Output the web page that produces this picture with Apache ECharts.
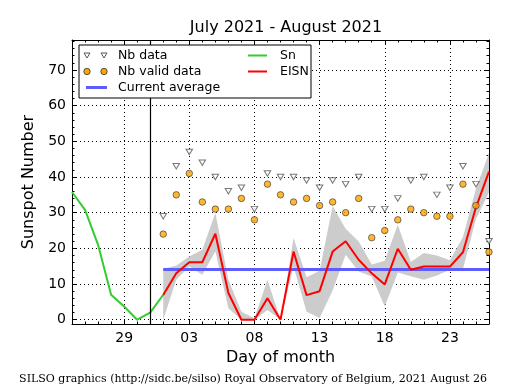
<!DOCTYPE html>
<html>
<head>
<meta charset="utf-8">
<script src="https://cdn.jsdelivr.net/npm/echarts@6/dist/echarts.min.js"></script>
<style>html,body{margin:0;padding:0;background:#fff}#c{width:515px;height:390px}</style>
</head>
<body>
<div id="c"></div>
<script>
// ---- Data ----
const days = ['25','26','27','28','29','30','31','01','02','03','04','05','06','07','08','09','10','11','12','13','14','15','16','17','18','19','20','21','22','23','24','25','26'];
const tickLabels = ['29','03','08','13','18','23'];
// Sn: July 25 .. August 1
const snValues = [35.8, 30.8, 21.0, 7.0, 3.7, 0, 2.0, 7.0];
// August 1 .. August 26
const eisnValues = [6.9, 13.0, 16.1, 16.1, 24.1, 7.5, 0, 0, 6.0, 0, 19.1, 6.9, 8.0, 19.1, 22.0, 16.8, 13.0, 9.9, 19.9, 14.0, 14.9, 14.9, 14.9, 18.9, 31.5, 41.5];
const bandUpper = [14.2, 15.2, 17.7, 19.6, 29.9, 11.2, 2.2, 0.4, 11.2, 0, 22.9, 11.9, 13.7, 31.8, 25.5, 21.9, 15.5, 16.5, 26.6, 16.2, 18.7, 18.0, 16.7, 23.2, 36.7, 46.7];
const bandLower = [0, 11.2, 14.9, 12.6, 19.2, 3.2, 0, 0, 2.7, 0, 14.9, 2.2, 0.5, 8.2, 18.2, 13.5, 12.1, 3.7, 13.2, 12.2, 11.2, 12.4, 14.0, 14.2, 28.2, 35.7];
const nbData = [29, 43, 47, 44, 40, 36, 37, 31, 41, 40, 40, 39, 37, 39, 38, 40, 31, 31, 34, 39, 40, 35, 37, 43, 38, 22];
const nbValid = [24, 35, 41, 33, 31, 31, 34, 28, 38, 35, 33, 34, 32, 33, 30, 34, 23, 25, 28, 31, 30, 29, 29, 38, 32, 19];
const currentAverage = 14.1;
const monthStartIndex = 6; // vertical marker (31 July)

// ---- helpers ----
const augStart = days.length - eisnValues.length; // index of 01 Aug
function padAug(arr) { return days.map((d, i) => i >= augStart ? arr[i - augStart] : null); }
function padJul(arr) { return days.map((d, i) => i < arr.length ? arr[i] : null); }
const bandDiff = bandUpper.map((u, i) => +(u - bandLower[i]).toFixed(2));
const avgLine = eisnValues.map(() => currentAverage);
const isMajor = (i) => tickLabels.indexOf(days[i]) >= 0 && (i + 1) % 5 === 0;

const FONT = 'DejaVu Sans';
const triPath = 'path://M0,0 L10,0 L5,9 Z';

const xCommon = { type: 'category', data: days, boundaryGap: false, gridIndex: 0 };
const yCommon = { type: 'value', min: -1.2, max: 78.4, gridIndex: 0 };

const option = {
  animation: false,
  backgroundColor: '#fff',
  title: {
    text: 'July 2021 - August 2021', left: 281, top: 15, textAlign: 'center',
    textStyle: { fontFamily: FONT, fontSize: 16, fontWeight: 'normal', color: '#000' }
  },
  grid: { left: 72, right: 26, top: 40, bottom: 66, containLabel: false },
  xAxis: [
    Object.assign({}, xCommon, {
      position: 'bottom',
      name: 'Day of month', nameLocation: 'middle', nameGap: 25,
      nameTextStyle: { fontFamily: FONT, fontSize: 16, color: '#000' },
      axisLine: { show: true, onZero: false, lineStyle: { color: '#000', width: 1 } },
      axisTick: { show: true, inside: true, length: 5, interval: (i) => isMajor(i), lineStyle: { color: '#000' } },
      axisLabel: { show: true, interval: (i) => isMajor(i), margin: 7, fontFamily: FONT, fontSize: 14, color: '#000' },
      splitLine: { show: true, interval: (i) => isMajor(i), lineStyle: { color: '#000', type: [1, 3], width: 1 } }
    }),
    Object.assign({}, xCommon, {
      position: 'top',
      axisLine: { show: true, onZero: false, lineStyle: { color: '#000', width: 1 } },
      axisTick: { show: true, inside: true, length: 5, interval: (i) => isMajor(i), lineStyle: { color: '#000' } },
      axisLabel: { show: false }, splitLine: { show: false }
    }),
    Object.assign({}, xCommon, {
      position: 'bottom',
      axisLine: { show: false, onZero: false },
      axisTick: { show: true, inside: true, length: 2.5, interval: 0, lineStyle: { color: '#000' } },
      axisLabel: { show: false }, splitLine: { show: false }
    }),
    Object.assign({}, xCommon, {
      position: 'top',
      axisLine: { show: false, onZero: false },
      axisTick: { show: true, inside: true, length: 2.5, interval: 0, lineStyle: { color: '#000' } },
      axisLabel: { show: false }, splitLine: { show: false }
    })
  ],
  yAxis: [
    Object.assign({}, yCommon, {
      position: 'left', splitNumber: 8,
      name: 'Sunspot Number', nameLocation: 'middle', nameGap: 28, nameRotate: 90,
      nameTextStyle: { fontFamily: FONT, fontSize: 16, color: '#000' },
      axisLine: { show: true, onZero: false, lineStyle: { color: '#000', width: 1 } },
      axisTick: { show: true, inside: true, length: 5, lineStyle: { color: '#000' } },
      axisLabel: { show: true, margin: 6, fontFamily: FONT, fontSize: 14, color: '#000',
        formatter: (v) => (Math.abs(v % 10) < 1e-6 ? String(v) : '') },
      splitLine: { show: true, lineStyle: { color: '#000', type: [1, 3], width: 1 } }
    }),
    Object.assign({}, yCommon, {
      position: 'right', splitNumber: 8,
      axisLine: { show: true, onZero: false, lineStyle: { color: '#000', width: 1 } },
      axisTick: { show: true, inside: true, length: 5, lineStyle: { color: '#000' } },
      axisLabel: { show: false }, splitLine: { show: false }
    }),
    Object.assign({}, yCommon, {
      position: 'left', splitNumber: 40,
      axisLine: { show: false, onZero: false },
      axisTick: { show: true, inside: true, length: 2.5, lineStyle: { color: '#000' } },
      axisLabel: { show: false }, splitLine: { show: false }
    }),
    Object.assign({}, yCommon, {
      position: 'right', splitNumber: 40,
      axisLine: { show: false, onZero: false },
      axisTick: { show: true, inside: true, length: 2.5, lineStyle: { color: '#000' } },
      axisLabel: { show: false }, splitLine: { show: false }
    })
  ],
  series: [
    { name: 'bandLow', type: 'line', stack: 'band', data: padAug(bandLower), symbol: 'none',
      lineStyle: { opacity: 0 }, silent: true, z: 1 },
    { name: 'band', type: 'line', stack: 'band', data: padAug(bandDiff), symbol: 'none',
      lineStyle: { opacity: 0 }, areaStyle: { color: '#cccccc', opacity: 1 }, silent: true, z: 1 },
    { name: 'Current average', type: 'line', data: padAug(avgLine), symbol: 'none',
      lineStyle: { color: '#5c5cff', width: 3 }, silent: true, z: 2 },
    { name: 'Sn', type: 'line', data: padJul(snValues), symbol: 'none',
      lineStyle: { color: '#33cc33', width: 2 }, silent: true, z: 3,
      markLine: { silent: true, symbol: 'none', label: { show: false },
        lineStyle: { color: '#000', type: 'solid', width: 1.2 },
        data: [{ xAxis: monthStartIndex }] } },
    { name: 'EISN', type: 'line', data: padAug(eisnValues), symbol: 'none',
      lineStyle: { color: '#ff0000', width: 2 }, silent: true, z: 4 },
    { name: 'Nb data', type: 'scatter', data: padAug(nbData), symbol: triPath, symbolSize: [6.5, 5.5],
      itemStyle: { color: '#ffffff', borderColor: '#555555', borderWidth: 1 }, silent: true, z: 5 },
    { name: 'Nb valid data', type: 'scatter', data: padAug(nbValid), symbol: 'circle', symbolSize: 6.5,
      itemStyle: { color: '#ffa500', borderColor: '#333333', borderWidth: 0.8 }, silent: true, z: 6 }
  ],
  graphic: [
    { type: 'rect', z: 100, shape: { x: 79, y: 45, width: 232, height: 53 }, style: { fill: '#fff', stroke: '#000', lineWidth: 1 } },
    { type: 'polygon', z: 101, shape: { points: [[84, 53], [90, 53], [87, 58]] }, style: { fill: '#fff', stroke: '#555', lineWidth: 1 } },
    { type: 'polygon', z: 101, shape: { points: [[101, 53], [107, 53], [104, 58]] }, style: { fill: '#fff', stroke: '#555', lineWidth: 1 } },
    { type: 'text', z: 101, style: { text: 'Nb data', x: 118, y: 56, verticalAlign: 'middle', font: '12.5px "DejaVu Sans"', fill: '#000' } },
    { type: 'circle', z: 101, shape: { cx: 87, cy: 71.5, r: 3.2 }, style: { fill: '#ffa500', stroke: '#333', lineWidth: 0.8 } },
    { type: 'circle', z: 101, shape: { cx: 104, cy: 71.5, r: 3.2 }, style: { fill: '#ffa500', stroke: '#333', lineWidth: 0.8 } },
    { type: 'text', z: 101, style: { text: 'Nb valid data', x: 118, y: 72, verticalAlign: 'middle', font: '12.5px "DejaVu Sans"', fill: '#000' } },
    { type: 'line', z: 101, shape: { x1: 86, y1: 87.5, x2: 107, y2: 87.5 }, style: { stroke: '#5c5cff', lineWidth: 3 } },
    { type: 'text', z: 101, style: { text: 'Current average', x: 118, y: 87.5, verticalAlign: 'middle', font: '12.5px "DejaVu Sans"', fill: '#000' } },
    { type: 'line', z: 101, shape: { x1: 248, y1: 55.5, x2: 267, y2: 55.5 }, style: { stroke: '#33cc33', lineWidth: 2 } },
    { type: 'text', z: 101, style: { text: 'Sn', x: 280, y: 56, verticalAlign: 'middle', font: '12.5px "DejaVu Sans"', fill: '#000' } },
    { type: 'line', z: 101, shape: { x1: 248, y1: 71.5, x2: 267, y2: 71.5 }, style: { stroke: '#ff0000', lineWidth: 2 } },
    { type: 'text', z: 101, style: { text: 'EISN', x: 280, y: 72, verticalAlign: 'middle', font: '12.5px "DejaVu Sans"', fill: '#000' } },
    { type: 'text', z: 101, style: { text: 'SILSO graphics (http://sidc.be/silso) Royal Observatory of Belgium, 2021 August 26',
      x: 253, y: 379, align: 'center', verticalAlign: 'middle', font: '11px "DejaVu Serif"', fill: '#000' } }
  ]
};

const chart = echarts.init(document.getElementById('c'), null, { renderer: 'canvas', width: 515, height: 390 });
chart.setOption(option);
</script>
</body>
</html>
